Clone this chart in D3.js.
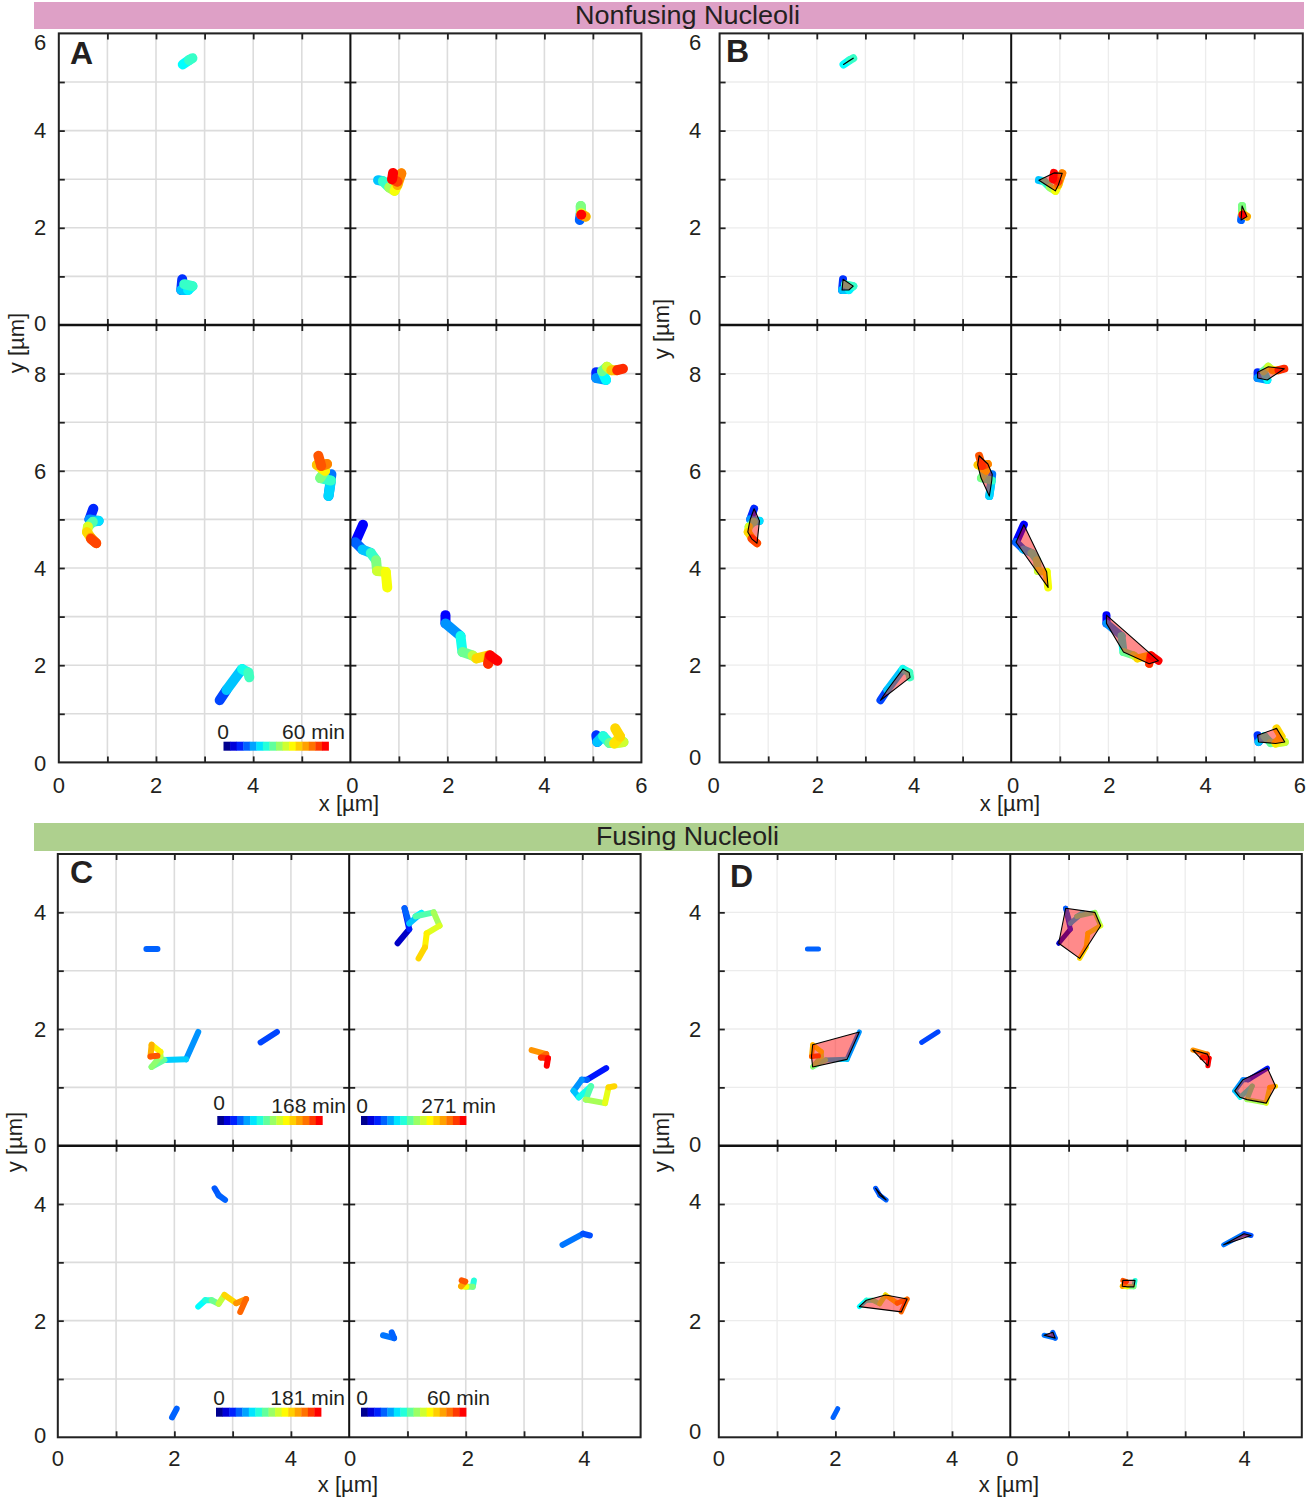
<!DOCTYPE html>
<html>
<head>
<meta charset="utf-8">
<script src="https://cdn.jsdelivr.net/npm/d3@7"></script>
<style>
  html, body { margin: 0; background: #fff; }
  svg { display: block; }
  text { font-family: "Liberation Sans", Arial, sans-serif; fill: #231f20; }
</style>
</head>
<body>
<div class="canvas"></div>
<script>
// tracks: each point is [x um, y um, time fraction]
const nonfusingTopLeft = [
    [[2.55, 5.36, .34], [2.68, 5.45, .36], [2.75, 5.49, .42]],
    [[2.54, .94, .1], [2.52, .72, .15], [2.66, .72, .3], [2.75, .8, .35], [2.58, .84, .42]]
];
const nonfusingTopRight = [
    [[.57, 2.98, .02], [.67, 2.96, .3], [.8, 2.83, .42], [.91, 2.76, .55], [.97, 2.88, .65], [1.05, 3.12, .78], [.97, 2.95, .85], [.86, 3.0, .92], [.88, 3.13, 1]],
    [[4.73, 2.16, .12], [4.75, 2.29, .2], [4.75, 2.45, .45], [4.76, 2.3, .5], [4.85, 2.23, .62], [4.76, 2.27, .8], [4.76, 2.27, 1]]
];
const nonfusingBottomLeft = [
    [[.71, 5.22, .08], [.63, 5.0, .14], [.82, 4.97, .25], [.7, 4.95, .33], [.6, 4.85, .45], [.58, 4.74, .62], [.66, 4.62, .72], [.77, 4.51, .8], [.66, 4.6, .92]],
    [[5.61, 5.93, .1], [5.55, 5.48, .22], [5.6, 5.8, .32], [5.38, 5.85, .42], [5.48, 6.0, .5], [5.31, 6.12, .68], [5.52, 6.14, .75], [5.4, 6.1, .85], [5.34, 6.31, .9]],
    [[3.31, 1.28, .08], [3.45, 1.49, .17], [3.77, 1.92, .3], [3.9, 1.85, .38], [3.92, 1.75, .43]]
];
const nonfusingBottomRight = [
    [[.26, 4.89, .05], [.1, 4.53, .1], [.25, 4.38, .2], [.42, 4.31, .3], [.53, 4.16, .42], [.55, 3.94, .5], [.73, 3.92, .6], [.76, 3.6, .65]],
    [[1.96, 3.03, .06], [1.96, 2.86, .1], [2.27, 2.6, .25], [2.31, 2.27, .38], [2.52, 2.2, .48], [2.6, 2.14, .58], [2.86, 2.2, .72], [2.84, 2.03, .85], [2.88, 2.2, .95], [3.03, 2.09, 1]],
    [[5.07, 8.03, .08], [5.07, 7.91, .14], [5.27, 7.87, .25], [5.19, 8.05, .36], [5.29, 8.14, .48], [5.38, 8.07, .6], [5.5, 8.07, .75], [5.62, 8.1, .95]],
    [[5.07, .56, .1], [5.09, .42, .15], [5.21, .54, .3], [5.34, .4, .4], [5.63, .42, .48], [5.44, .39, .6], [5.56, .53, .7], [5.46, .7, .72]]
];
const fusingTopLeft = [
    [[1.52, 3.37, .2], [1.71, 3.37, .2]],
    [[2.41, 1.95, .23], [2.2, 1.48, .25], [1.83, 1.47, .31], [1.61, 1.35, .47], [1.76, 1.53, .52], [1.76, 1.61, .58], [1.61, 1.73, .68], [1.59, 1.53, .78], [1.71, 1.54, .9]],
    [[3.48, 1.77, .17], [3.76, 1.95, .17]]
];
const fusingTopRight = [
    [[.83, 3.47, .02], [1.03, 3.71, .05], [.95, 4.07, .13], [1.03, 3.81, .2], [1.24, 3.99, .3], [1.14, 3.93, .35], [1.45, 4.0, .45], [1.55, 3.77, .55], [1.33, 3.64, .62], [1.3, 3.4, .68], [1.19, 3.21, .72]],
    [[3.13, 1.64, .78], [3.38, 1.57, .82], [3.29, 1.51, .88], [3.41, 1.5, .95], [3.39, 1.37, 1]],
    [[4.41, 1.33, .03], [4.08, 1.13, .12], [3.99, 1.13, .2], [3.85, .94, .25], [3.94, .83, .3], [4.15, 1.02, .38], [4.06, .79, .45], [4.39, .73, .55], [4.45, 1.0, .63], [4.55, 1.02, .72]]
];
const fusingBottomLeft = [
    [[2.69, 4.27, .18], [2.76, 4.15, .19], [2.87, 4.07, .2]],
    [[2.41, 2.24, .33], [2.53, 2.35, .36], [2.64, 2.35, .4], [2.76, 2.29, .48], [2.86, 2.44, .58], [3.06, 2.3, .72], [3.23, 2.37, .82], [3.13, 2.15, .88]],
    [[1.96, .34, .2], [2.04, .49, .2]]
];
const fusingBottomRight = [
    [[3.66, 3.3, .22], [4.01, 3.49, .22], [4.13, 3.46, .18]],
    [[.58, 1.75, .22], [.77, 1.7, .22], [.73, 1.8, .2]],
    [[2.14, 2.69, .35], [2.12, 2.58, .4], [2.01, 2.58, .5], [1.92, 2.59, .65], [1.99, 2.67, .8], [1.93, 2.69, .9]]
];

// tick labels
const bigXTicks = [0, 2, 4, 6];
const smallXTicks = [0, 2, 4];
const yTicksTop6 = [0, 2, 4, 6];
const yTicksBottom9 = [0, 2, 4, 6, 8];
const yTicks5 = [0, 2, 4];

// colorbar labels
const barA = ['0', '60 min'];
const barC1 = ['0', '168 min'];
const barC2 = ['0', '271 min'];
const barC3 = ['0', '181 min'];
const barC4 = ['0', '60 min'];
const barSteps = d3.range(16);

const jet = d3.scaleLinear()
    .domain([0, .1, .36, .5, .66, .85, 1])
    .range(['#00008f', '#0000ff', '#00ffff', '#7fff7f', '#ffff00', '#ff8000', '#ff0000']);

const svg = d3.select('.canvas')
    .append('svg')
    .attr('width', 1307)
    .attr('height', 1500);

// title bands
const bands = [
    { name: 'Nonfusing Nucleoli', y: 2, h: 27, fill: '#dea0c6', len: 225 },
    { name: 'Fusing Nucleoli', y: 823, h: 28, fill: '#aed08e', len: 183 }
];
bands.forEach(b => {
    svg.append('rect')
        .attr('x', 34).attr('y', b.y)
        .attr('width', 1270).attr('height', b.h)
        .attr('fill', b.fill);
    svg.append('text')
        .attr('x', 687.5).attr('y', b.y + 22)
        .attr('text-anchor', 'middle')
        .attr('font-size', 26)
        .attr('textLength', b.len)
        .attr('lengthAdjust', 'spacingAndGlyphs')
        .text(b.name);
});

const panels = [
    {
        letter: 'A', letterX: 70, letterY: 64,
        x0: 58.8, x1: 350.4, x2: 641.4, y0: 33.4, y1: 325, y2: 762.4,
        xMax: 6, yMaxTop: 6, yMaxBottom: 9,
        xLeftTicks: smallXTicks, xRightTicks: bigXTicks, yTopTicks: yTicksTop6, yBottomTicks: yTicksBottom9,
        xMinor: d3.range(0, 7), yMinorTop: d3.range(0, 7), yMinorBottom: d3.range(0, 10),
        tracks: [nonfusingTopLeft, nonfusingTopRight, nonfusingBottomLeft, nonfusingBottomRight],
        hulls: false, trackWidth: 10, gridColor: '#dcdcdc', gridWidth: 1.6,
        yLabelX: 40, xLabelY: 793, axisTitleX: 349, axisTitleY: 811, yTitleX: 24, yTitleY: 343,
        xShiftRight: { 0: 2, 2: 1 }, yShift: { 6: 9, 4: -1, 2: -1, 0: -2 }, yShiftBottom: { 0: 1 },
        bars: [{ labels: barA, x: 223.5, y: 741.7, zeroX: 223, zeroY: 739, maxX: 345, maxY: 739 }]
    },
    {
        letter: 'B', letterX: 726, letterY: 62,
        x0: 719.6, x1: 1011.2, x2: 1302.8, y0: 33.4, y1: 325, y2: 762.4,
        xMax: 6, yMaxTop: 6, yMaxBottom: 9,
        xLeftTicks: smallXTicks, xRightTicks: bigXTicks, yTopTicks: yTicksTop6, yBottomTicks: yTicksBottom9,
        xMinor: d3.range(0, 7), yMinorTop: d3.range(0, 7), yMinorBottom: d3.range(0, 10),
        tracks: [nonfusingTopLeft, nonfusingTopRight, nonfusingBottomLeft, nonfusingBottomRight],
        hulls: true, trackWidth: 8, gridColor: '#ececec', gridWidth: 1.3,
        yLabelX: 695, xLabelY: 793, axisTitleX: 1010, axisTitleY: 811, yTitleX: 669, yTitleY: 329,
        xLeftOffset: { 0: -6, 2: 1 }, xShiftRight: { 0: 2, 2: 1, 6: -3 }, yShift: { 6: 9, 4: -1, 2: -1, 0: -8 }, yShiftBottom: { 0: -5 },
        bars: []
    },
    {
        letter: 'C', letterX: 70, letterY: 883,
        x0: 57.8, x1: 349.2, x2: 640.6, y0: 854, y1: 1145.7, y2: 1437.3,
        xMax: 5, yMaxTop: 5, yMaxBottom: 5,
        xLeftTicks: smallXTicks, xRightTicks: smallXTicks, yTopTicks: yTicks5, yBottomTicks: yTicks5,
        xMinor: d3.range(0, 6), yMinorTop: d3.range(0, 6), yMinorBottom: d3.range(0, 6),
        tracks: [fusingTopLeft, fusingTopRight, fusingBottomLeft, fusingBottomRight],
        hulls: false, trackWidth: 6, gridColor: '#dcdcdc', gridWidth: 1.6,
        yLabelX: 40, xLabelY: 1466, axisTitleX: 348, axisTitleY: 1492, yTitleX: 22, yTitleY: 1142,
        xShiftRight: { 0: 1, 2: 2, 4: 2 }, yLeftOffset: {}, yShift: { 0: -1 }, yShiftBottom: { 0: -2 },
        bars: [
            { labels: barC1, x: 217.3, y: 1116, zeroX: 219, zeroY: 1110, maxX: 346, maxY: 1113 },
            { labels: barC2, x: 361, y: 1116, zeroX: 362, zeroY: 1113, maxX: 496, maxY: 1113 },
            { labels: barC3, x: 216, y: 1407.7, zeroX: 219, zeroY: 1405, maxX: 345, maxY: 1405 },
            { labels: barC4, x: 361, y: 1407.7, zeroX: 362, zeroY: 1405, maxX: 490, maxY: 1405 }
        ]
    },
    {
        letter: 'D', letterX: 730, letterY: 887,
        x0: 718.8, x1: 1010.3, x2: 1301.8, y0: 854, y1: 1145.7, y2: 1437.3,
        xMax: 5, yMaxTop: 5, yMaxBottom: 5,
        xLeftTicks: smallXTicks, xRightTicks: smallXTicks, yTopTicks: yTicks5, yBottomTicks: yTicks5,
        xMinor: d3.range(0, 6), yMinorTop: d3.range(0, 6), yMinorBottom: d3.range(0, 6),
        tracks: [fusingTopLeft, fusingTopRight, fusingBottomLeft, fusingBottomRight],
        hulls: true, trackWidth: 5, gridColor: '#ececec', gridWidth: 1.3,
        yLabelX: 695, xLabelY: 1466, axisTitleX: 1009, axisTitleY: 1492, yTitleX: 669, yTitleY: 1142,
        xShiftRight: { 0: 2, 2: 1, 4: 1 }, yShift: { 0: -2 }, yShiftBottom: { 4: -3, 0: -6 },
        bars: []
    }
];

const drawTicks = (g, axis) => {
    g.call(axis);
    g.select('.domain').remove();
    g.selectAll('.tick line').attr('stroke', '#222').attr('stroke-width', 1.8);
    g.selectAll('.tick text').remove();
};

const drawPanel = (p) => {

    const graph = svg.append('g');

    // scales for the four sub plots
    const xL = d3.scaleLinear().domain([0, p.xMax]).range([p.x0, p.x1]);
    const xR = d3.scaleLinear().domain([0, p.xMax]).range([p.x1, p.x2]);
    const yT = d3.scaleLinear().domain([0, p.yMaxTop]).range([p.y1, p.y0]);
    const yB = d3.scaleLinear().domain([0, p.yMaxBottom]).range([p.y2, p.y1]);

    // grid
    const grid = graph.append('g')
        .attr('stroke', p.gridColor)
        .attr('stroke-width', p.gridWidth);
    [xL, xR].forEach(x => {
        grid.append('g').selectAll('line').data(p.xMinor).enter().append('line')
            .attr('x1', d => x(d)).attr('x2', d => x(d))
            .attr('y1', p.y0).attr('y2', p.y2);
    });
    [[yT, p.yMinorTop], [yB, p.yMinorBottom]].forEach(([y, vals]) => {
        grid.append('g').selectAll('line').data(vals).enter().append('line')
            .attr('y1', d => y(d)).attr('y2', d => y(d))
            .attr('x1', p.x0).attr('x2', p.x2);
    });

    // tracks, with the pink hull on top of them for panels B and D
    const subplots = [[xL, yT], [xR, yT], [xL, yB], [xR, yB]];
    subplots.forEach(([x, y], i) => {
        const sub = graph.append('g');
        p.tracks[i].forEach(track => {
            sub.append('g').selectAll('line')
                .data(d3.pairs(track))
                .enter().append('line')
                .attr('x1', d => x(d[0][0]))
                .attr('y1', d => y(d[0][1]))
                .attr('x2', d => x(d[1][0]))
                .attr('y2', d => y(d[1][1]))
                .attr('stroke', d => jet(d[1][2]))
                .attr('stroke-width', p.trackWidth)
                .attr('stroke-linecap', 'round');
            if (p.hulls) {
                const hull = d3.polygonHull(track.map(d => [x(d[0]), y(d[1])]));
                if (hull) {
                    sub.append('path')
                        .attr('d', 'M' + hull.join('L') + 'Z')
                        .attr('fill', '#ff0000')
                        .attr('fill-opacity', .46)
                        .attr('stroke', '#000')
                        .attr('stroke-width', 1.1)
                        .attr('stroke-linejoin', 'round');
                }
            }
        });
    });

    // axes ticks on every edge
    const len = 6;
    const tickAt = (axis, tx, ty) => drawTicks(graph.append('g').attr('transform', `translate(${tx},${ty})`), axis);
    [xL, xR].forEach(x => {
        const vals = p.xMinor.slice(1, -1);
        tickAt(d3.axisBottom(x).tickValues(vals).tickSize(-len), 0, p.y2);
        tickAt(d3.axisTop(x).tickValues(vals).tickSize(-len), 0, p.y0);
        tickAt(d3.axisTop(x).tickValues(vals).tickSize(len), 0, p.y1);
        tickAt(d3.axisBottom(x).tickValues(vals).tickSize(len), 0, p.y1);
    });
    [[yT, p.yMinorTop], [yB, p.yMinorBottom]].forEach(([y, all]) => {
        const vals = all.slice(1, -1);
        tickAt(d3.axisLeft(y).tickValues(vals).tickSize(-len), p.x0, 0);
        tickAt(d3.axisRight(y).tickValues(vals).tickSize(-len), p.x2, 0);
        tickAt(d3.axisLeft(y).tickValues(vals).tickSize(len), p.x1, 0);
        tickAt(d3.axisRight(y).tickValues(vals).tickSize(len), p.x1, 0);
    });

    // frame and the two centre lines
    graph.append('rect')
        .attr('x', p.x0).attr('y', p.y0)
        .attr('width', p.x2 - p.x0).attr('height', p.y2 - p.y0)
        .attr('fill', 'none')
        .attr('stroke', '#222')
        .attr('stroke-width', 2);
    graph.append('line')
        .attr('x1', p.x1).attr('x2', p.x1).attr('y1', p.y0).attr('y2', p.y2)
        .attr('stroke', '#111').attr('stroke-width', 2);
    graph.append('line')
        .attr('x1', p.x0).attr('x2', p.x2).attr('y1', p.y1).attr('y2', p.y1)
        .attr('stroke', '#111').attr('stroke-width', 2.4);

    // tick labels
    const labels = graph.append('g').attr('font-size', 22).attr('text-anchor', 'middle');
    const leftOff = p.xLeftOffset || {};
    p.xLeftTicks.forEach(v => {
        labels.append('text').attr('x', xL(v) + (leftOff[v] || 0)).attr('y', p.xLabelY).text(v);
    });
    p.xRightTicks.forEach(v => {
        labels.append('text').attr('x', xR(v) + (p.xShiftRight[v] || 0)).attr('y', p.xLabelY).text(v);
    });
    p.yTopTicks.forEach(v => {
        labels.append('text').attr('x', p.yLabelX).attr('y', yT(v) + (p.yShift[v] || 0) + 8).text(v);
    });
    p.yBottomTicks.forEach(v => {
        labels.append('text').attr('x', p.yLabelX).attr('y', yB(v) + (p.yShiftBottom[v] || 0) + 8).text(v);
    });

    // axis titles
    graph.append('text')
        .attr('x', p.axisTitleX).attr('y', p.axisTitleY)
        .attr('text-anchor', 'middle').attr('font-size', 22)
        .text('x [µm]');
    graph.append('text')
        .attr('transform', `translate(${p.yTitleX},${p.yTitleY}) rotate(-90)`)
        .attr('text-anchor', 'middle').attr('font-size', 22)
        .text('y [µm]');

    // panel letter
    graph.append('text')
        .attr('x', p.letterX).attr('y', p.letterY)
        .attr('font-size', 32).attr('font-weight', 'bold')
        .text(p.letter);

    // colorbars
    p.bars.forEach(b => {
        const band = d3.scaleBand().domain(barSteps).range([b.x, b.x + 105]);
        graph.append('g').selectAll('rect')
            .data(barSteps)
            .enter().append('rect')
            .attr('x', d => band(d))
            .attr('y', b.y)
            .attr('width', band.bandwidth() + .4)
            .attr('height', 9)
            .attr('fill', d => jet(d / 15));
        graph.append('text')
            .attr('x', b.zeroX).attr('y', b.zeroY)
            .attr('text-anchor', 'middle').attr('font-size', 21)
            .text(b.labels[0]);
        graph.append('text')
            .attr('x', b.maxX).attr('y', b.maxY)
            .attr('text-anchor', 'end').attr('font-size', 21)
            .text(b.labels[1]);
    });

};

panels.forEach(drawPanel);
</script>
</body>
</html>
